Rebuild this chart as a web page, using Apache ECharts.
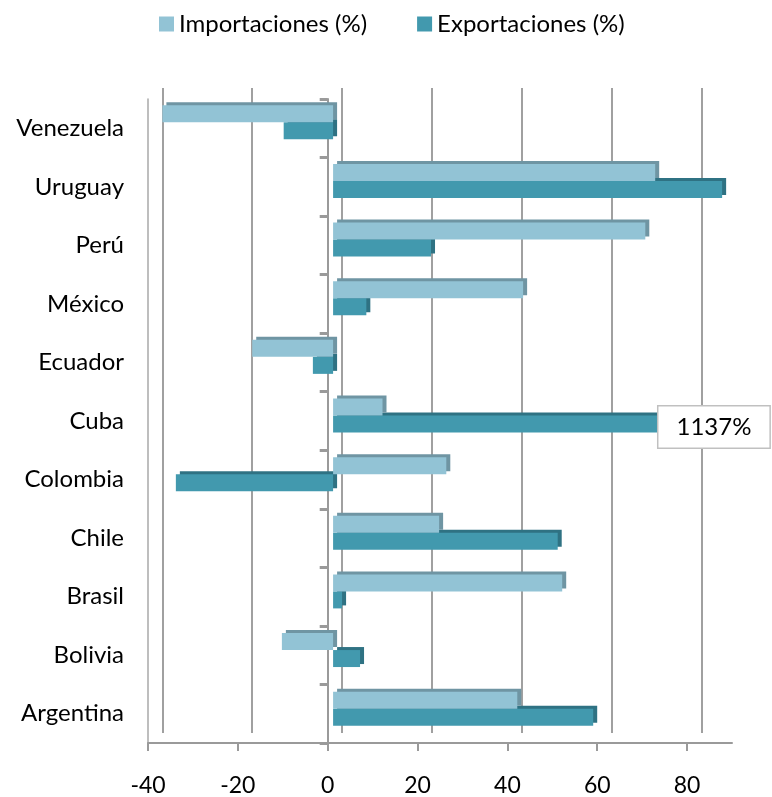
<!DOCTYPE html>
<html>
<head>
<meta charset="utf-8">
<script src="https://cdn.jsdelivr.net/npm/echarts@6/dist/echarts.min.js"></script>
<style>html,body{margin:0;padding:0;background:#fff}#c{width:772px;height:797px}</style>
</head>
<body>
<div id="c"></div>
<script>
var categories = ['Argentina','Bolivia','Brasil','Chile','Colombia','Cuba','Ecuador','México','Perú','Uruguay','Venezuela'];
var importaciones = [41, -11.4, 51, 23.6, 25.2, 11, -18, 42.3, 69.5, 71.7, -38];
var exportaciones = [57.9, 6, 2, 50, -35, 1137, -4.5, 7.4, 21.8, 86.6, -11];
var seriesNames = ['Importaciones (%)', 'Exportaciones (%)'];
var xTicks = [-40, -20, 0, 20, 40, 60, 80];
var xMin = -40, xMax = 90, xStep = 20;
var cubaLabel = '1137%';

var FONT = 'Lato';
var chart = echarts.init(document.getElementById('c'), null, {renderer: 'canvas'});

var expData = exportaciones.map(function (v, i) {
  if (categories[i] === 'Cuba') {
    return {
      value: v,
      label: {
        show: true, formatter: cubaLabel, position: 'insideRight', offset: [37, 3],
        backgroundColor: '#fff', borderColor: '#c0c0c0', borderWidth: 1.5,
        padding: [10, 18, 7, 18], fontSize: 24, color: '#000', fontFamily: FONT
      }
    };
  }
  return v;
});

var option = {
  animation: false,
  textStyle: {fontFamily: FONT},
  legend: {
    data: seriesNames, top: 7, left: 154, itemWidth: 15, itemHeight: 15, itemGap: 50,
    icon: 'rect', textStyle: {fontSize: 24, color: '#000', fontFamily: FONT}
  },
  grid: [
    {left: 148, width: 584, top: 99, height: 645, containLabel: false},
    {left: 153.4, width: 584, top: 93, height: 645, containLabel: false},
    {left: 162.4, width: 584, top: 88, height: 645, containLabel: false}
  ],
  xAxis: [
    {gridIndex: 0, type: 'value', min: xMin, max: xMax, interval: xStep,
      axisLine: {show: true, onZero: false, lineStyle: {color: '#9a9a9a', width: 2}},
      axisTick: {show: true, length: 8, customValues: xTicks, lineStyle: {color: '#9a9a9a', width: 2}},
      axisLabel: {fontSize: 23, color: '#000', margin: 31, fontFamily: FONT, customValues: xTicks},
      splitLine: {show: false}},
    {gridIndex: 1, type: 'value', min: xMin, max: xMax, interval: xStep, show: false,
      splitLine: {show: false}},
    {gridIndex: 2, type: 'value', min: xMin, max: xMax, interval: xStep,
      axisLine: {show: false}, axisTick: {show: false}, axisLabel: {show: false},
      splitLine: {show: true, showMaxLine: false, lineStyle: {color: '#a0a0a0', width: 2}}}
  ],
  yAxis: [
    {gridIndex: 0, type: 'category', data: categories,
      axisLine: {show: true, onZero: false, lineStyle: {color: '#a8a8a8', width: 1.5}},
      axisTick: {show: false},
      axisLabel: {fontSize: 24, color: '#000', margin: 24, fontFamily: FONT}},
    {gridIndex: 0, type: 'category', data: categories, position: 'left',
      axisLine: {show: true, onZero: true, lineStyle: {color: '#9a9a9a', width: 2}},
      axisTick: {show: true, length: 8, lineStyle: {color: '#9a9a9a', width: 3}},
      axisLabel: {show: false}},
    {gridIndex: 1, type: 'category', data: categories, show: false},
    {gridIndex: 2, type: 'category', data: categories, show: false}
  ],
  series: [
    {name: seriesNames[0], type: 'bar', xAxisIndex: 1, yAxisIndex: 2, data: importaciones,
      barWidth: 17, barGap: '0%', z: 4,
      itemStyle: {color: '#92c3d5', shadowColor: '#6f95a3', shadowOffsetX: 4, shadowOffsetY: -3, shadowBlur: 0}},
    {name: seriesNames[1], type: 'bar', xAxisIndex: 1, yAxisIndex: 2, data: expData,
      barWidth: 17, barGap: '0%', z: 3,
      itemStyle: {color: '#4299ae', shadowColor: '#2f7283', shadowOffsetX: 4, shadowOffsetY: -3, shadowBlur: 0}}
  ]
};
chart.setOption(option);
</script>
</body>
</html>
